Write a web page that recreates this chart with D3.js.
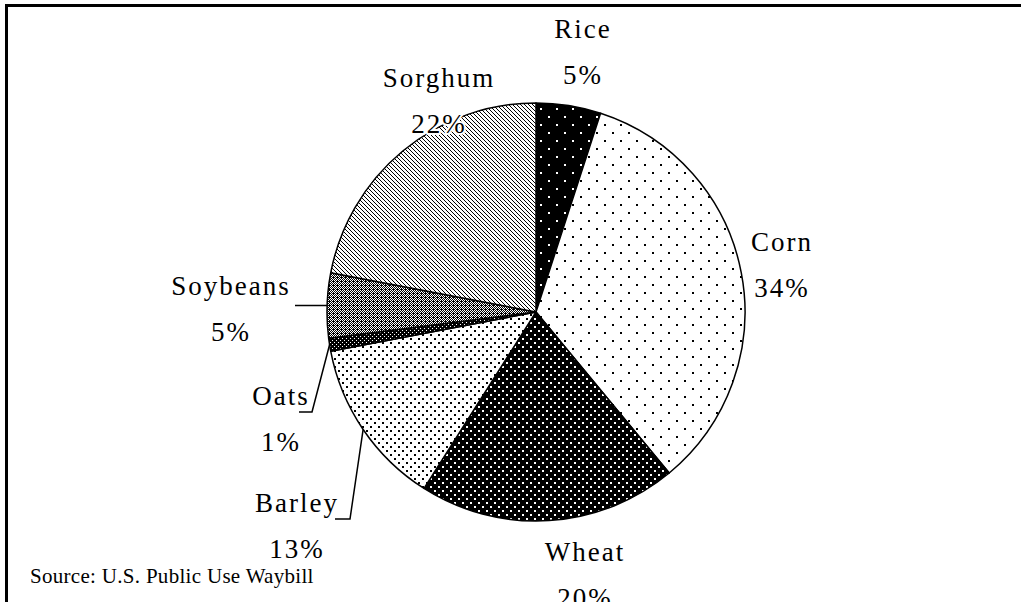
<!DOCTYPE html>
<html lang="en">
<head>
<meta charset="utf-8">
<title>Grain shares pie</title>
<script src="https://cdn.jsdelivr.net/npm/d3@7/dist/d3.min.js"></script>
<style>
  body { margin: 0; background: #fff; }
  svg { display: block; }
  text { font-family: "Liberation Serif", "Times New Roman", serif; fill: #000; }
  .lbl { paint-order: stroke; stroke: #fff; stroke-width: 4px; stroke-linejoin: round; }
</style>
</head>
<body>
<div id="chart"></div>
<script>
// data
var crops  = ["Rice", "Corn", "Wheat", "Barley", "Oats", "Soybeans", "Sorghum"];
var shares = [5, 34, 20, 13, 1, 5, 22];
var source = "Source:  U.S. Public Use Waybill";

var width = 1021, height = 602;
var cx = 536, cy = 312, radius = 209;

// label placement relative to the pie centre (baseline of the name line)
var labelPos = {
  Rice:     [47, -274],
  Corn:     [246, -61],
  Wheat:    [49, 249],
  Barley:   [-239, 200],
  Oats:     [-255, 93],
  Soybeans: [-305, -17],
  Sorghum:  [-97, -225]
};
// leader lines: extra points after the slice edge
var leaders = {
  Soybeans: [[295, 307]],
  Oats:     [[312, 412], [299, 412]],
  Barley:   [[350, 519], [335, 519]]
};

var svg = d3.select("#chart").append("svg")
  .attr("width", width).attr("height", height);

var defs = svg.append("defs");

function pattern(id, w, h, bg, fg, cells) {
  var p = defs.append("pattern").attr("id", id)
    .attr("patternUnits", "userSpaceOnUse")
    .attr("width", w).attr("height", h);
  p.append("rect").attr("width", w).attr("height", h).attr("fill", bg);
  cells.forEach(function (c) {
    p.append("rect").attr("x", c[0]).attr("y", c[1])
      .attr("width", c[2] || 1).attr("height", c[3] || 1).attr("fill", fg);
  });
}

pattern("p-rice", 16, 16, "#000", "#fff", [[4, 4, 2, 2], [12, 12, 2, 2]]);
pattern("p-corn", 16, 16, "#fff", "#000", [[4, 4, 2, 2], [12, 12, 2, 2]]);
pattern("p-wheat", 8, 8, "#000", "#fff", [[2, 2, 2, 2], [6, 6, 2, 2]]);
pattern("p-barley", 8, 8, "#fff", "#000", [[2, 2, 2, 2], [6, 6, 2, 2]]);
pattern("p-oats", 4, 4, "#000", "#fff", [[0, 0], [2, 2]]);
pattern("p-soy", 4, 4, "#fff", "#000", [[1, 0], [3, 0], [0, 1], [2, 1], [1, 2], [3, 2], [0, 3], [2, 3], [1, 1]]);
pattern("p-sorghum", 4, 4, "#fff", "#000", [[0, 0], [1, 1], [2, 2], [3, 3]]);

var fills = {
  Rice: "url(#p-rice)", Corn: "url(#p-corn)", Wheat: "url(#p-wheat)",
  Barley: "url(#p-barley)", Oats: "url(#p-oats)", Soybeans: "url(#p-soy)",
  Sorghum: "url(#p-sorghum)"
};

// frame: heavy top and left rules
svg.append("path")
  .attr("d", "M6.5," + height + "V5.5H" + width)
  .attr("fill", "none").attr("stroke", "#000").attr("stroke-width", 3);

var pie = d3.pie().sort(null).value(function (d) { return d.v; });
var arcs = pie(crops.map(function (c, i) { return { name: c, v: shares[i] }; }));
var arc = d3.arc().innerRadius(0).outerRadius(radius);

var g = svg.append("g").attr("transform", "translate(" + cx + "," + cy + ")");

g.selectAll("path.slice").data(arcs).enter().append("path")
  .attr("class", "slice")
  .attr("d", arc)
  .attr("fill", function (d) { return fills[d.data.name]; })
  .attr("stroke", "#000").attr("stroke-width", 1.5)
  .attr("stroke-linejoin", "round");

// leader lines
arcs.forEach(function (d) {
  var extra = leaders[d.data.name];
  if (!extra) return;
  var a = (d.startAngle + d.endAngle) / 2;
  var pts = [[cx + radius * Math.sin(a), cy - radius * Math.cos(a)]].concat(extra);
  if (d.data.name === "Soybeans") pts[1] = [extra[0][0], pts[0][1]];
  svg.append("path")
    .attr("d", d3.line()(pts))
    .attr("fill", "none").attr("stroke", "#000").attr("stroke-width", 1.5);
});

// labels
arcs.forEach(function (d) {
  var p = labelPos[d.data.name];
  var t = svg.append("text")
    .attr("class", "lbl")
    .attr("x", cx + p[0]).attr("y", cy + p[1])
    .attr("text-anchor", "middle")
    .style("font-size", "27px")
    .style("letter-spacing", "2px");
  t.append("tspan").attr("x", cx + p[0]).text(d.data.name);
  t.append("tspan").attr("x", cx + p[0]).attr("dy", 46).text(d.data.v + "%");
});

svg.append("text").attr("x", 30).attr("y", 583)
  .style("font-size", "21px").style("letter-spacing", "0.3px").text(source);
</script>
</body>
</html>
